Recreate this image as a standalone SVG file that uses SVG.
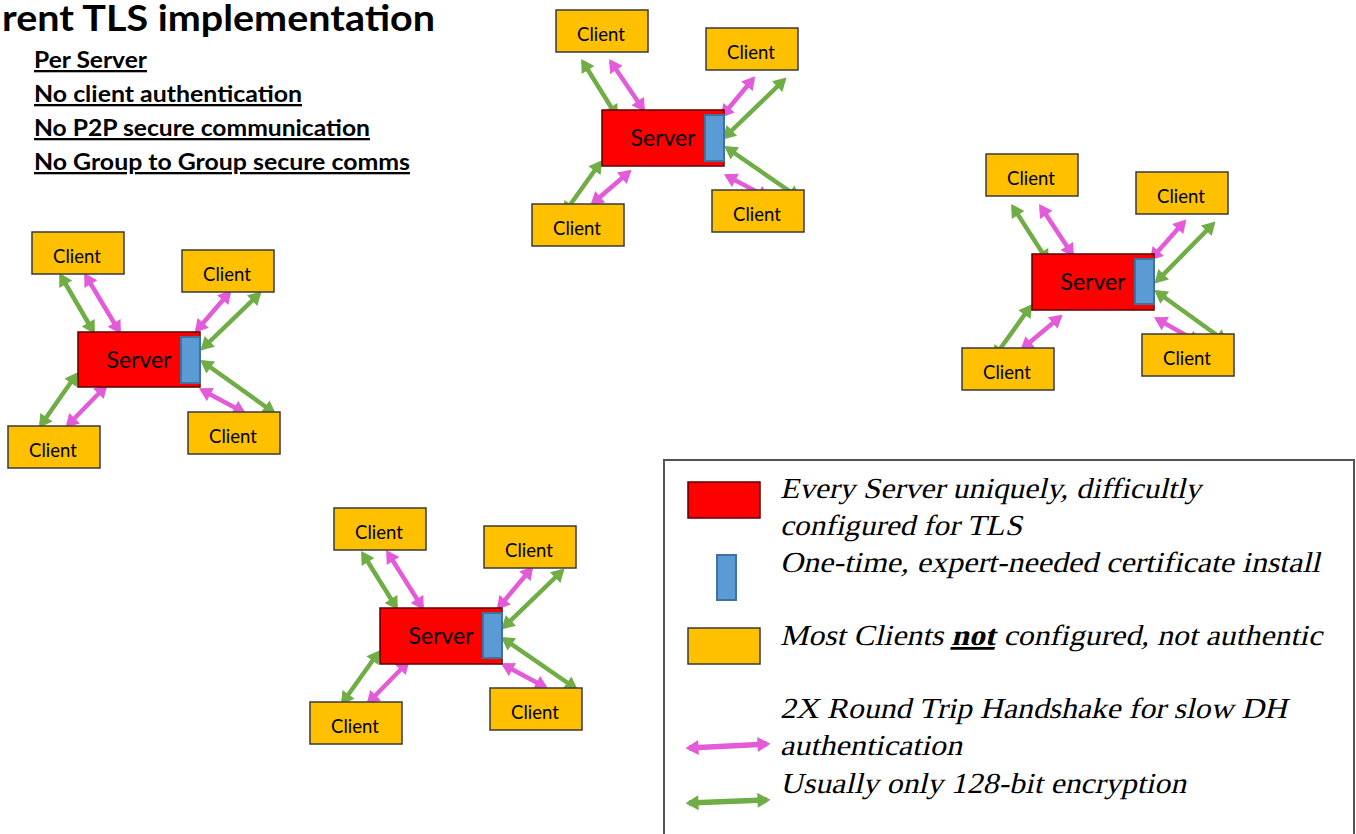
<svg xmlns="http://www.w3.org/2000/svg" width="1356" height="834" viewBox="0 0 1356 834">
<defs>
<style>
.client rect{fill:#FFC000;stroke:#3a3a3a;stroke-width:1.5}
.client text{font-family:Lato,"Liberation Sans",sans-serif;font-size:18.5px;fill:#000;text-anchor:middle}
.server rect.body{fill:#FF0000;stroke:#5a0000;stroke-width:1.5}
.server rect.cert{fill:#5B9BD5;stroke:#41719C;stroke-width:2}
.server text{font-family:Lato,"Liberation Sans",sans-serif;font-size:23px;fill:#000;text-anchor:middle}
.p{stroke:#E35BD8;stroke-width:4.5;marker-start:url(#ap);marker-end:url(#ap)}
.g{stroke:#70AD47;stroke-width:4.5;marker-start:url(#ag);marker-end:url(#ag)}
.hdr{font-family:Lato,"Liberation Sans",sans-serif;font-weight:bold;fill:#000}
.sub{font-size:23px;text-decoration:underline}
.lg{font-family:"Liberation Serif","Times New Roman",serif;font-size:29px;fill:#000}
</style>
<marker id="ap" markerUnits="userSpaceOnUse" markerWidth="14" markerHeight="16" viewBox="0 -8 13 16" refX="9.5" refY="0" orient="auto-start-reverse"><path d="M0,-7.5 L13,0 L0,7.5 z" fill="#E35BD8"/></marker>
<marker id="ag" markerUnits="userSpaceOnUse" markerWidth="14" markerHeight="16" viewBox="0 -8 13 16" refX="9.5" refY="0" orient="auto-start-reverse"><path d="M0,-7.5 L13,0 L0,7.5 z" fill="#70AD47"/></marker>
</defs>
<rect x="0" y="0" width="1356" height="834" fill="#FFFFFF"/>

<g id="title">
<text class="hdr" x="2" y="31" font-size="37" textLength="433" lengthAdjust="spacingAndGlyphs">rent TLS implementation</text>
<text class="hdr sub" x="34" y="68" textLength="113" lengthAdjust="spacingAndGlyphs">Per Server</text>
<text class="hdr sub" x="34" y="102" textLength="268" lengthAdjust="spacingAndGlyphs">No client authentication</text>
<text class="hdr sub" x="34" y="136" textLength="336" lengthAdjust="spacingAndGlyphs">No P2P secure communication</text>
<text class="hdr sub" x="34" y="170" textLength="376" lengthAdjust="spacingAndGlyphs">No Group to Group secure comms</text>
</g>

<g id="connectors">
<!-- cluster 1 -->
<line class="g" x1="61" y1="276" x2="93" y2="331"/>
<line class="p" x1="86" y1="276" x2="119" y2="331"/>
<line class="p" x1="229" y1="293" x2="197" y2="330"/>
<line class="g" x1="259" y1="294" x2="203" y2="348"/>
<line class="g" x1="203" y1="362" x2="273" y2="412"/>
<line class="p" x1="202" y1="390" x2="243" y2="412"/>
<line class="g" x1="76" y1="375" x2="41" y2="425"/>
<line class="p" x1="105" y1="387" x2="68" y2="425"/>
<!-- cluster 2 -->
<line class="g" x1="583" y1="62" x2="616" y2="115"/>
<line class="p" x1="611" y1="62" x2="643" y2="109"/>
<line class="p" x1="753" y1="79" x2="723" y2="115"/>
<line class="g" x1="784" y1="80" x2="725" y2="137"/>
<line class="g" x1="727" y1="148" x2="798" y2="197"/>
<line class="p" x1="727" y1="176" x2="767" y2="197"/>
<line class="g" x1="600" y1="163" x2="565" y2="212"/>
<line class="p" x1="629" y1="172" x2="593" y2="203"/>
<!-- cluster 3 -->
<line class="g" x1="1013" y1="207" x2="1047" y2="260"/>
<line class="p" x1="1041" y1="207" x2="1072" y2="254"/>
<line class="p" x1="1184" y1="222" x2="1152" y2="258"/>
<line class="g" x1="1213" y1="224" x2="1157" y2="281"/>
<line class="g" x1="1157" y1="292" x2="1225" y2="341"/>
<line class="p" x1="1157" y1="319" x2="1198" y2="342"/>
<line class="g" x1="1030" y1="307" x2="995" y2="356"/>
<line class="p" x1="1060" y1="317" x2="1023" y2="348"/>
<!-- cluster 4 -->
<line class="g" x1="363" y1="554" x2="396" y2="607"/>
<line class="p" x1="388" y1="553" x2="422" y2="607"/>
<line class="p" x1="531" y1="569" x2="499" y2="607"/>
<line class="g" x1="562" y1="571" x2="504" y2="627"/>
<line class="g" x1="504" y1="639" x2="575" y2="688"/>
<line class="p" x1="504" y1="665" x2="545" y2="687"/>
<line class="g" x1="378" y1="653" x2="343" y2="702"/>
<line class="p" x1="407" y1="663" x2="369" y2="702"/>
</g>

<!-- cluster 1 -->
<g id="server1" class="server"><rect class="body" x="78" y="332" width="122" height="55"/><rect class="cert" x="181" y="337" width="19" height="46"/><text x="139" y="368">Server</text></g>
<g id="client1a" class="client"><rect x="32" y="232" width="92" height="42"/><text x="77" y="263">Client</text></g>
<g id="client1b" class="client"><rect x="182" y="250" width="92" height="42"/><text x="227" y="281">Client</text></g>
<g id="client1c" class="client"><rect x="8" y="426" width="92" height="42"/><text x="53" y="457">Client</text></g>
<g id="client1d" class="client"><rect x="188" y="412" width="92" height="42"/><text x="233" y="443">Client</text></g>

<!-- cluster 2 -->
<g id="server2" class="server"><rect class="body" x="602" y="110" width="122" height="56"/><rect class="cert" x="705" y="115" width="19" height="46"/><text x="663" y="146">Server</text></g>
<g id="client2a" class="client"><rect x="556" y="10" width="92" height="42"/><text x="601" y="41">Client</text></g>
<g id="client2b" class="client"><rect x="706" y="28" width="92" height="42"/><text x="751" y="59">Client</text></g>
<g id="client2c" class="client"><rect x="532" y="204" width="92" height="42"/><text x="577" y="235">Client</text></g>
<g id="client2d" class="client"><rect x="712" y="190" width="92" height="42"/><text x="757" y="221">Client</text></g>

<!-- cluster 3 -->
<g id="server3" class="server"><rect class="body" x="1032" y="254" width="122" height="56"/><rect class="cert" x="1135" y="259" width="19" height="45"/><text x="1093" y="290">Server</text></g>
<g id="client3a" class="client"><rect x="986" y="154" width="92" height="42"/><text x="1031" y="185">Client</text></g>
<g id="client3b" class="client"><rect x="1136" y="172" width="92" height="42"/><text x="1181" y="203">Client</text></g>
<g id="client3c" class="client"><rect x="962" y="348" width="92" height="42"/><text x="1007" y="379">Client</text></g>
<g id="client3d" class="client"><rect x="1142" y="334" width="92" height="42"/><text x="1187" y="365">Client</text></g>

<!-- cluster 4 -->
<g id="server4" class="server"><rect class="body" x="380" y="608" width="122" height="56"/><rect class="cert" x="483" y="613" width="19" height="45"/><text x="441" y="644">Server</text></g>
<g id="client4a" class="client"><rect x="334" y="508" width="92" height="42"/><text x="379" y="539">Client</text></g>
<g id="client4b" class="client"><rect x="484" y="526" width="92" height="42"/><text x="529" y="557">Client</text></g>
<g id="client4c" class="client"><rect x="310" y="702" width="92" height="42"/><text x="355" y="733">Client</text></g>
<g id="client4d" class="client"><rect x="490" y="688" width="92" height="42"/><text x="535" y="719">Client</text></g>

<g id="legend">
<rect x="664" y="460" width="690" height="390" fill="#FFFFFF" stroke="#555555" stroke-width="2"/>
<rect x="688" y="482" width="72" height="36" fill="#FF0000" stroke="#5a0000" stroke-width="1.5"/>
<rect x="717" y="555" width="19" height="45" fill="#5B9BD5" stroke="#41719C" stroke-width="2"/>
<rect x="688" y="628" width="72" height="36" fill="#FFC000" stroke="#3a3a3a" stroke-width="1.5"/>
<line x1="689" y1="748" x2="767" y2="744" stroke="#E35BD8" stroke-width="5.5" marker-start="url(#ap)" marker-end="url(#ap)"/>
<line x1="689" y1="803" x2="767" y2="800" stroke="#70AD47" stroke-width="5.5" marker-start="url(#ag)" marker-end="url(#ag)"/>
<text class="lg" transform="translate(780 498) skewX(-13)" x="0" y="0" textLength="421" lengthAdjust="spacingAndGlyphs">Every Server uniquely, difficultly</text>
<text class="lg" transform="translate(780 535) skewX(-13)" x="0" y="0" textLength="242" lengthAdjust="spacingAndGlyphs">configured for TLS</text>
<text class="lg" transform="translate(780 572) skewX(-13)" x="0" y="0" textLength="540" lengthAdjust="spacingAndGlyphs">One-time, expert-needed certificate install</text>
<text class="lg" transform="translate(780 645) skewX(-13)" x="0" y="0" textLength="542" lengthAdjust="spacingAndGlyphs">Most Clients <tspan font-weight="bold" text-decoration="underline">not</tspan> configured, not authentic</text>
<text class="lg" transform="translate(780 718) skewX(-13)" x="0" y="0" textLength="507" lengthAdjust="spacingAndGlyphs">2X Round Trip Handshake for slow DH</text>
<text class="lg" transform="translate(780 755) skewX(-13)" x="0" y="0" textLength="182" lengthAdjust="spacingAndGlyphs">authentication</text>
<text class="lg" transform="translate(780 793) skewX(-13)" x="0" y="0" textLength="406" lengthAdjust="spacingAndGlyphs">Usually only 128-bit encryption</text>
</g>
</svg>
